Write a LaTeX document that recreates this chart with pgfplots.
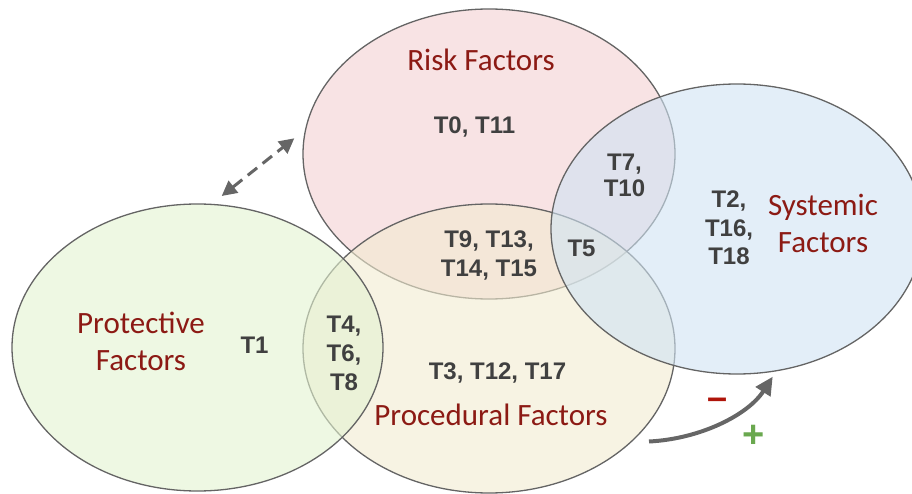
\documentclass[border=0pt]{standalone}
\usepackage{pgfplots}
\pgfplotsset{compat=1.18}
\usepackage{fontspec}
\setmainfont{Liberation Sans}
\newfontfamily\carlito{Carlito}
\usetikzlibrary{arrows.meta}
\definecolor{riskc}{RGB}{243,208,210}
\definecolor{sysc}{RGB}{208,227,243}
\definecolor{protc}{RGB}{227,243,208}
\definecolor{procc}{RGB}{242,235,208}
\definecolor{labred}{RGB}{140,26,20}
\definecolor{tgray}{RGB}{64,64,64}
\definecolor{edgec}{RGB}{100,100,100}
\definecolor{arrc}{RGB}{102,102,102}
\definecolor{plusg}{RGB}{106,168,79}
\definecolor{minusr}{RGB}{175,20,10}
\tikzset{
  fac/.style={text=labred, font=\carlito\fontsize{31}{37}\selectfont, align=center, inner sep=0pt, anchor=base},
  tl/.style={text=tgray, font=\bfseries\fontsize{24}{29}\selectfont, align=center, inner sep=0pt, anchor=base},
  venn/.style={draw=edgec, line width=1.3pt, fill opacity=0.6}}
\begin{document}
\begin{tikzpicture}
\path[use as bounding box] (0,0) rectangle (912pt,493pt);
\begin{axis}[x=1pt,y=1pt,xmin=0,xmax=912,ymin=0,ymax=493,
  hide axis, clip=true, at={(0,0)}, anchor=origin]
% circles: risk, procedural, protective, systemic
\draw[venn, fill=riskc]  (axis cs:489,339)   ellipse [x radius=186, y radius=145];
\draw[venn, fill=procc]  (axis cs:489,144.5) ellipse [x radius=186, y radius=144.5];
\draw[venn, fill=protc]  (axis cs:197.5,145.5) ellipse [x radius=185.5, y radius=143.5];
\draw[venn, fill=sysc]   (axis cs:737,264)   ellipse [x radius=186, y radius=145];
% labels (multi-line nodes: anchor base = last line baseline)
\node[fac] at (axis cs:481,422) {Risk Factors};
\node[fac] at (axis cs:823,240) {Systemic\\Factors};
\node[fac] at (axis cs:141,123) {Protective\\Factors};
\node[fac] at (axis cs:491,68) {Procedural Factors};
\node[tl] at (axis cs:474.5,359) {T0, T11};
\node[tl, font=\bfseries\fontsize{24}{26}\selectfont] at (axis cs:624.5,296) {T7,\\T10};
\node[tl, font=\bfseries\fontsize{24}{28.5}\selectfont] at (axis cs:729,228) {T2,\\T16,\\T18};
\node[tl] at (axis cs:581.5,236) {T5};
\node[tl] at (axis cs:489,216) {T9, T13,\\T14, T15};
\node[tl] at (axis cs:344,103) {T4,\\T6,\\T8};
\node[tl] at (axis cs:254.5,140) {T1};
\node[tl] at (axis cs:497.5,114) {T3, T12, T17};
% arrows
\draw[arrc, line width=3pt, dash pattern=on 12pt off 7pt,
  {Triangle[length=15pt,width=15pt]}-{Triangle[length=15pt,width=15pt]}]
  (axis cs:221.7,297) -- (axis cs:294.3,354.7);
\draw[arrc, line width=4pt, -{Triangle[length=18pt,width=17pt]}]
  (axis cs:649,51.5) .. controls (axis cs:700,54) and (axis cs:748,78) .. (axis cs:772.7,116.3);
\node[text=minusr, font=\bfseries\fontsize{36}{36}\selectfont, inner sep=0pt] at (axis cs:717.5,89.5) {–};
\node[text=plusg, font=\bfseries\fontsize{38}{38}\selectfont, inner sep=0pt] at (axis cs:754,57) {+};
\end{axis}
\end{tikzpicture}
\end{document}
